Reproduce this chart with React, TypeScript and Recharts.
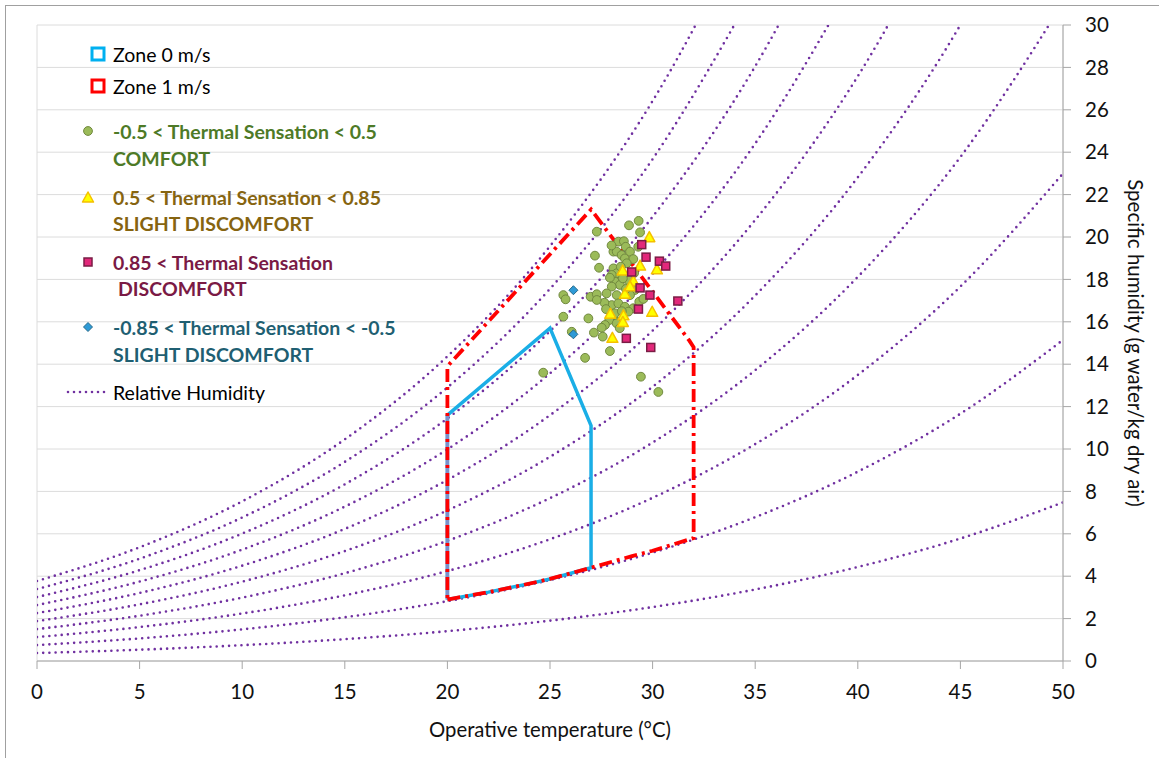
import React from 'react';
import { ComposedChart, Line, Scatter, XAxis, YAxis, CartesianGrid, Legend, Label } from 'recharts';

const FONT = 'Lato, "Open Sans", sans-serif';

// axis ticks
const xTicks = [0, 5, 10, 15, 20, 25, 30, 35, 40, 45, 50];
const yTicks = [0, 2, 4, 6, 8, 10, 12, 14, 16, 18, 20, 22, 24, 26, 28, 30];
const minorXTicks = [0, 1, 2, 3, 4, 5, 6, 7, 8, 9, 10, 11, 12, 13, 14, 15, 16, 17, 18, 19, 20, 21, 22, 23, 24, 25,
  26, 27, 28, 29, 30, 31, 32, 33, 34, 35, 36, 37, 38, 39, 40, 41, 42, 43, 44, 45, 46, 47, 48, 49, 50];

// relative humidity curves (specific humidity g/kg read at each temperature)
const rhTemps = [0, 5, 10, 15, 20, 25, 30, 35, 40, 45, 50];
const rh10 = [0.375, 0.532, 0.745, 1.03, 1.407, 1.903, 2.544, 3.373, 4.433, 5.778, 7.481];
const rh20 = [0.751, 1.066, 1.492, 2.063, 2.821, 3.818, 5.11, 6.783, 8.93, 11.664, 15.145];
const rh30 = [1.127, 1.6, 2.24, 3.1, 4.242, 5.744, 7.696, 10.231, 13.491, 17.662, 22.997];
const rh40 = [1.504, 2.135, 2.991, 4.14, 5.669, 7.682, 10.304, 13.716, 18.119, 23.774, 31.046];
const rh50 = [1.881, 2.671, 3.743, 5.184, 7.102, 9.633, 12.933, 17.24, 22.815, 30.005, 39.297];
const rh60 = [2.259, 3.208, 4.497, 6.231, 8.542, 11.595, 15.585, 20.803, 27.581, 36.356];
const rh70 = [2.637, 3.746, 5.253, 7.282, 9.988, 13.57, 18.258, 24.407, 32.417];
const rh80 = [3.015, 4.285, 6.011, 8.336, 11.441, 15.557, 20.954, 28.051, 37.326];
const rh90 = [3.394, 4.825, 6.77, 9.394, 12.901, 17.556, 23.673, 31.736];
const rh100 = [3.773, 5.365, 7.531, 10.455, 14.368, 19.568, 26.415, 35.463];
const rhSeries = [rh10, rh20, rh30, rh40, rh50, rh60, rh70, rh80, rh90, rh100];

// comfort zones
const zone0 = [
  { x: 20, y: 2.9 }, { x: 22, y: 3.25 }, { x: 24, y: 3.65 }, { x: 25, y: 3.87 }, { x: 27, y: 4.4 },
  { x: 27, y: 11.1 }, { x: 25, y: 15.7 }, { x: 20, y: 11.6 }, { x: 20, y: 2.9 },
];
const zone0Left = [{ x: 20, y: 2.9 }, { x: 20, y: 11.6 }];
const zone1 = [
  { x: 20, y: 2.9 }, { x: 22, y: 3.25 }, { x: 24, y: 3.65 }, { x: 25, y: 3.87 }, { x: 27, y: 4.4 },
  { x: 29, y: 4.95 }, { x: 30, y: 5.2 }, { x: 32, y: 5.8 }, { x: 32, y: 14.8 }, { x: 31.8, y: 15.1 },
  { x: 27, y: 21.3 }, { x: 20, y: 13.9 }, { x: 20, y: 2.9 },
];

// survey points
const comfort = [
  { x: 27.28, y: 20.25 }, { x: 28.85, y: 20.55 }, { x: 29.32, y: 20.76 }, { x: 29.39, y: 20.22 },
  { x: 27.19, y: 19.12 }, { x: 27.39, y: 18.55 }, { x: 28.09, y: 19.31 }, { x: 28.33, y: 19.78 },
  { x: 28.6, y: 19.8 }, { x: 28.69, y: 19.54 }, { x: 28.25, y: 19.31 }, { x: 28.49, y: 19.15 },
  { x: 28.65, y: 18.99 }, { x: 28.9, y: 19.31 }, { x: 29.06, y: 18.96 }, { x: 28.74, y: 18.76 },
  { x: 29.3, y: 19.54 }, { x: 28.09, y: 18.52 }, { x: 28.25, y: 18.29 }, { x: 28.01, y: 18.21 },
  { x: 28.17, y: 17.89 }, { x: 28.41, y: 17.74 }, { x: 28.82, y: 17.97 }, { x: 29.14, y: 17.5 },
  { x: 28.9, y: 17.26 }, { x: 29.35, y: 16.95 }, { x: 29.55, y: 17.08 }, { x: 28.25, y: 17.26 },
  { x: 28.01, y: 16.79 }, { x: 28.33, y: 16.87 }, { x: 28.65, y: 16.71 }, { x: 29.06, y: 16.64 },
  { x: 28.09, y: 16.32 }, { x: 28.33, y: 16.0 }, { x: 28.82, y: 16.48 }, { x: 27.92, y: 18.08 },
  { x: 28.01, y: 17.66 }, { x: 27.76, y: 17.34 }, { x: 27.65, y: 16.9 }, { x: 27.73, y: 16.6 },
  { x: 28.17, y: 16.4 }, { x: 27.89, y: 16.08 }, { x: 28.25, y: 15.93 }, { x: 27.68, y: 15.85 },
  { x: 25.65, y: 17.26 }, { x: 25.76, y: 17.06 }, { x: 25.65, y: 16.24 }, { x: 26.87, y: 16.16 },
  { x: 26.98, y: 17.18 }, { x: 27.28, y: 17.3 }, { x: 27.28, y: 17.03 }, { x: 27.14, y: 15.49 },
  { x: 27.52, y: 15.72 }, { x: 27.57, y: 15.3 }, { x: 26.06, y: 15.53 }, { x: 26.71, y: 14.3 },
  { x: 27.92, y: 14.62 }, { x: 24.67, y: 13.6 }, { x: 29.43, y: 13.41 }, { x: 30.28, y: 12.69 },
  { x: 28.45, y: 18.6 }, { x: 28.55, y: 18.05 }, { x: 28.7, y: 17.55 }, { x: 28.5, y: 16.5 },
  { x: 28.4, y: 15.7 }, { x: 29.1, y: 18.3 }, { x: 28.0, y: 19.6 },
];
const slightWarm = [
  { x: 29.84, y: 19.97 }, { x: 29.39, y: 18.63 }, { x: 30.21, y: 18.45 }, { x: 28.54, y: 18.4 },
  { x: 29.06, y: 17.9 }, { x: 28.65, y: 17.3 }, { x: 29.98, y: 16.45 }, { x: 27.94, y: 16.36 },
  { x: 28.58, y: 16.28 }, { x: 28.55, y: 15.97 }, { x: 28.04, y: 15.22 }, { x: 28.9, y: 17.65 },
];
const discomfort = [
  { x: 29.47, y: 19.64 }, { x: 29.68, y: 19.05 }, { x: 30.33, y: 18.86 }, { x: 30.64, y: 18.63 },
  { x: 28.98, y: 18.35 }, { x: 29.39, y: 17.6 }, { x: 29.87, y: 17.26 }, { x: 31.23, y: 16.98 },
  { x: 29.31, y: 16.6 }, { x: 28.72, y: 15.22 }, { x: 29.91, y: 14.79 },
];
const slightCool = [{ x: 26.14, y: 17.49 }, { x: 26.14, y: 15.41 }];

const RH_COLOR = '#7030A0';
const BLUE = '#1AAEE6';
const RED = '#FF0000';

const circleShape = (p: any) => (
  <circle cx={p.cx} cy={p.cy} r={4.4} fill="#9BBB59" stroke="#71893F" strokeWidth={1} />
);
const triangleShape = (p: any) => (
  <polygon
    points={`${p.cx},${p.cy - 6} ${p.cx + 5.5},${p.cy + 4} ${p.cx - 5.5},${p.cy + 4}`}
    fill="#FFFF00" stroke="#F5C000" strokeWidth={1.5} strokeLinejoin="round"
  />
);
const squareShape = (p: any) => (
  <rect x={p.cx - 4} y={p.cy - 4} width={8} height={8} fill="#E2287A" stroke="#7A1D45" strokeWidth={1.5} />
);
const diamondShape = (p: any) => (
  <polygon
    points={`${p.cx},${p.cy - 4.5} ${p.cx + 4.5},${p.cy} ${p.cx},${p.cy + 4.5} ${p.cx - 4.5},${p.cy}`}
    fill="#2E9AD6" stroke="#286A8A" strokeWidth={1}
  />
);

const LegendBox = () => {
  const tx = 113;
  const reg = { fontFamily: FONT, fontSize: 19.5, fill: '#000' } as const;
  const bold = { fontFamily: FONT, fontSize: 19.5, fontWeight: 700 } as const;
  return (
    <svg width={560} height={420} style={{ display: 'block' }}>
      <rect x={92} y={48} width={12} height={12} fill="#fff" stroke="#00B0F0" strokeWidth={3} />
      <text x={tx} y={54} dominantBaseline="central" {...reg}>Zone 0 m/s</text>
      <rect x={92} y={80} width={12} height={12} fill="#fff" stroke={RED} strokeWidth={3} />
      <text x={tx} y={86} dominantBaseline="central" {...reg}>Zone 1 m/s</text>

      {circleShape({ cx: 88, cy: 131 })}
      <text x={tx} y={131} dominantBaseline="central" {...bold} fill="#4E7A27">-0.5 &lt; Thermal Sensation &lt; 0.5</text>
      <text x={tx} y={158} dominantBaseline="central" {...bold} fill="#4E7A27">COMFORT</text>

      {triangleShape({ cx: 88, cy: 198 })}
      <text x={tx} y={197} dominantBaseline="central" {...bold} fill="#866410">0.5 &lt; Thermal Sensation &lt; 0.85</text>
      <text x={tx} y={223} dominantBaseline="central" {...bold} fill="#866410">SLIGHT DISCOMFORT</text>

      {squareShape({ cx: 88, cy: 262 })}
      <text x={tx} y={262} dominantBaseline="central" {...bold} fill="#7A1A45">0.85 &lt; Thermal Sensation</text>
      <text x={tx + 5} y={288} dominantBaseline="central" {...bold} fill="#7A1A45">DISCOMFORT</text>

      {diamondShape({ cx: 88, cy: 327 })}
      <text x={tx} y={327} dominantBaseline="central" {...bold} fill="#1F5F72">-0.85 &lt; Thermal Sensation &lt; -0.5</text>
      <text x={tx} y={354} dominantBaseline="central" {...bold} fill="#1F5F72">SLIGHT DISCOMFORT</text>

      <line x1={68} y1={392} x2={106} y2={392} stroke={RH_COLOR} strokeWidth={2.6} strokeDasharray="0 6" strokeLinecap="round" />
      <text x={tx} y={392} dominantBaseline="central" {...reg}>Relative Humidity</text>
    </svg>
  );
};

export default function App() {
  return (
    <div style={{ position: 'absolute', left: 0, top: 0, width: 1159, height: 758, overflow: 'hidden', background: '#fff' }}>
      <div style={{ position: 'absolute', left: 5, top: 5, width: 1200, height: 800, border: '1.5px solid #a0a0a0' }} />
      <div style={{ position: 'absolute', left: 0, top: 0 }}>
        <ComposedChart width={1159} height={758} margin={{ top: 25, right: 0, bottom: 0, left: 37 }}>
          <XAxis xAxisId="minor" type="number" domain={[0, 50]} ticks={minorXTicks} hide allowDataOverflow />
          <CartesianGrid xAxisId="minor" stroke="#dcdcdc" strokeWidth={1} />
          <XAxis
            type="number" dataKey="x" domain={[0, 50]} ticks={xTicks} allowDataOverflow
            height={97} tickSize={8} tickMargin={15}
            stroke="#a6a6a6" tick={{ fill: '#111', fontSize: 20.5, fontFamily: FONT }}
          >
            <Label
              content={(props: any) => {
                const vb = props.viewBox || {};
                return (
                  <text x={vb.x + vb.width / 2} y={vb.y + 68} textAnchor="middle" dominantBaseline="central"
                    fontFamily={FONT} fontSize={20.3} fill="#111">Operative temperature (°C)</text>
                );
              }}
            />
          </XAxis>
          <YAxis
            type="number" dataKey="y" orientation="right" domain={[0, 30]} ticks={yTicks} allowDataOverflow
            width={96} tickSize={8} tickMargin={14}
            stroke="#a6a6a6" tick={{ fill: '#111', fontSize: 20.5, fontFamily: FONT, textAnchor: 'start' }}
          >
            <Label
              content={(props: any) => {
                const vb = props.viewBox || {};
                const cx = vb.x + 73;
                const cy = vb.y + vb.height / 2;
                return (
                  <text x={cx} y={cy} textAnchor="middle" dominantBaseline="central" transform={`rotate(90, ${cx}, ${cy})`}
                    fontFamily={FONT} fontSize={20.5} fill="#111">Specific humidity (g water/kg dry air)</text>
                );
              }}
            />
          </YAxis>
          <Legend layout="horizontal" verticalAlign="middle" align="center"
            wrapperStyle={{ left: 0, top: 0, width: 560, height: 420 }} content={() => <LegendBox />} />

          {rhSeries.map((vals, i) => (
            <Line
              key={`rh${i}`}
              data={vals.map((w, j) => ({ x: rhTemps[j], y: w }))}
              dataKey="y" type="monotone" stroke={RH_COLOR} strokeWidth={2.6}
              strokeDasharray="0 6.2" strokeLinecap="round" dot={false} activeDot={false}
              isAnimationActive={false} legendType="none"
            />
          ))}

          <Line data={zone0} dataKey="y" type="linear" stroke={BLUE} strokeWidth={3.5} dot={false}
            activeDot={false} isAnimationActive={false} name="Zone 0 m/s" />
          <Line data={zone0Left} dataKey="y" type="linear" stroke="#7D90CA" strokeWidth={3.5} dot={false}
            activeDot={false} isAnimationActive={false} legendType="none" />
          <Line data={zone1} dataKey="y" type="linear" stroke={RED} strokeWidth={3.8} strokeDasharray="13 5 3 5"
            dot={false} activeDot={false} isAnimationActive={false} name="Zone 1 m/s" />

          <Scatter data={comfort} dataKey="y" shape={circleShape} isAnimationActive={false} name="comfort" />
          <Scatter data={slightWarm} dataKey="y" shape={triangleShape} isAnimationActive={false} name="slight warm" />
          <Scatter data={discomfort} dataKey="y" shape={squareShape} isAnimationActive={false} name="discomfort" />
          <Scatter data={slightCool} dataKey="y" shape={diamondShape} isAnimationActive={false} name="slight cool" />
        </ComposedChart>
      </div>
    </div>
  );
}
